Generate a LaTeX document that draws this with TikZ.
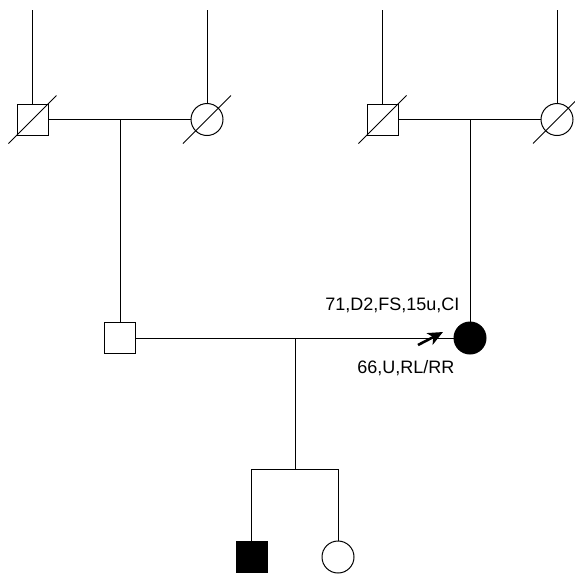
\documentclass[tikz,border=0pt]{standalone}
\usepackage{fontspec}
\setmainfont{Liberation Sans}
\usetikzlibrary{arrows.meta}
\begin{document}
\begin{tikzpicture}[
    x=1pt, y=-1pt,
    every node/.style={font=\fontsize{18}{20}\selectfont},
    line/.style={draw=black, line width=1pt},
    male/.style={line, rectangle, minimum size=31pt, inner sep=0pt, fill=#1},
    male/.default={white},
    female/.style={line, circle, minimum size=32pt, inner sep=0pt, fill=#1},
    female/.default={white},
    deadslash/.style={draw=black, line width=0.8pt},
    probandarrow/.style={draw=black, line width=2.6pt, -{Stealth[length=15pt,width=13pt,inset=4pt]}},
  ]
    \useasboundingbox (0,0) rectangle (575,574);

    % Grandparents (generation I)
    \node[male]   (gpaL) at (32.5,119.5) {};
    \node[female] (gmaL) at (207,119.5) {};
    \node[male]   (gpaR) at (382.5,119.5) {};
    \node[female] (gmaR) at (557,119.5) {};

    % Parents (generation II)
    \node[male]          (father) at (120,338) {};
    \node[female=black]  (mother) at (470,338) {};

    % Children (generation III)
    \node[male=black] (son)      at (251.5,556.5) {};
    \node[female]     (daughter) at (338,557) {};

    % Lines to unknown ancestors
    \foreach \p in {gpaL,gmaL,gpaR,gmaR} {
      \coordinate (\p top) at (\p |- 0,10);
      \draw[line] (\p top) -- (\p.north);
    }

    % Deceased slashes
    \foreach \p in {gpaL,gmaL,gpaR,gmaR} {
      \draw[deadslash] ([shift={(-24,24)}]\p.center) -- ([shift={(24,-24)}]\p.center);
    }

    % Marriage lines
    \draw[line] (gpaL.east) -- (gmaL.west);
    \draw[line] (gpaR.east) -- (gmaR.west);
    \draw[line] (father.east) -- (mother.west);

    % Descent lines
    \coordinate (dropL) at (father |- gpaL);
    \coordinate (dropR) at (mother |- gpaR);
    \draw[line] (dropL) -- (father.north);
    \draw[line] (dropR) -- (mother.north);

    % Sibship
    \coordinate (dropC) at (295,338);
    \coordinate (sibC) at (295,469);
    \coordinate (sibL) at (son |- sibC);
    \coordinate (sibR) at (daughter |- sibC);
    \draw[line] (dropC) -- (sibC);
    \draw[line] (sibL) -- (sibR);
    \draw[line] (sibL) -- (son.north);
    \draw[line] (sibR) -- (daughter.north);

    % Proband arrow and labels
    \coordinate (arrowtail) at (418,345);
    \coordinate (arrowtip) at (443,332);
    \draw[probandarrow] (arrowtail) -- (arrowtip);
    \node[anchor=east] (infoA) at (463,305) {71,D2,FS,15u,CI};
    \node[anchor=east] (infoB) at (458,368) {66,U,RL/RR};

  \end{tikzpicture}
\end{document}
